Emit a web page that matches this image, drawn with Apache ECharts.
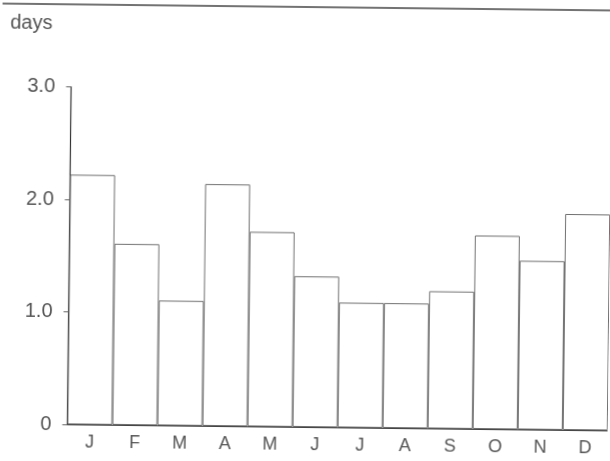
<!DOCTYPE html>
<html>
<head>
<meta charset="utf-8">
<title>days per month</title>
<script src="https://cdn.jsdelivr.net/npm/echarts@6/dist/echarts.min.js"></script>
<style>
  html, body { margin: 0; padding: 0; background: #fff; overflow: hidden; }
  #chart { width: 610px; height: 461px; transform: rotate(0.65deg); transform-origin: 50% 50%; }
</style>
</head>
<body>
<div id="chart"></div>
<script>
// Monthly values, January to December
const months = ['J', 'F', 'M', 'A', 'M', 'J', 'J', 'A', 'S', 'O', 'N', 'D'];
const days = [2.22, 1.61, 1.11, 2.15, 1.73, 1.34, 1.11, 1.11, 1.22, 1.72, 1.50, 1.92];
const yTicks = [0, 1, 2, 3];

const textColor = '#555';
const fontFamily = 'Liberation Sans, Arial, sans-serif';

const chart = echarts.init(document.getElementById('chart'), null, { renderer: 'canvas' });

chart.setOption({
  animation: false,
  backgroundColor: '#fff',
  title: {
    text: 'days',
    left: 8,
    top: 16,
    padding: 0,
    textStyle: { fontSize: 20, fontWeight: 'normal', color: textColor, fontFamily: fontFamily }
  },
  graphic: [{
    type: 'line',
    shape: { x1: 0, y1: 7, x2: 640, y2: 7 },
    style: { stroke: '#444', lineWidth: 1.5 }
  }],
  grid: { left: 69.5, right: 0, top: 89.5, bottom: 34, containLabel: false },
  xAxis: {
    type: 'category',
    data: months,
    axisLine: { show: true, lineStyle: { color: '#444', width: 1.2 } },
    axisTick: { show: false },
    axisLabel: { margin: 9, fontSize: 18, color: textColor, fontFamily: fontFamily }
  },
  yAxis: {
    type: 'value',
    min: yTicks[0],
    max: yTicks[yTicks.length - 1],
    interval: 1,
    splitLine: { show: false },
    axisLine: { show: true, lineStyle: { color: '#333', width: 1.2 } },
    axisTick: { show: true, length: 5, lineStyle: { color: '#666' } },
    axisLabel: {
      margin: 16,
      fontSize: 20,
      color: textColor,
      fontFamily: fontFamily,
      formatter: v => (v === 0 ? '0' : v.toFixed(1))
    }
  },
  series: [{
    type: 'bar',
    data: days,
    barCategoryGap: '0%',
    itemStyle: { color: '#fff', borderColor: '#707070', borderWidth: 1 }
  }]
});
</script>
</body>
</html>
